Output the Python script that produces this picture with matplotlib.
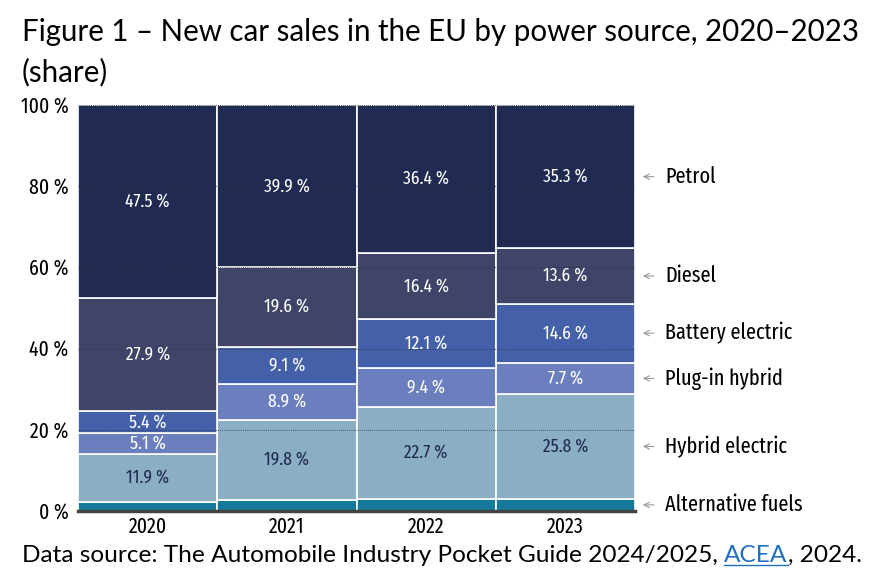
import matplotlib
matplotlib.use("Agg")
import matplotlib.pyplot as plt
from matplotlib import font_manager
from matplotlib.font_manager import FontProperties
from matplotlib.textpath import TextPath
import numpy as np

years = ["2020", "2021", "2022", "2023"]
sources = ["Alternative fuels", "Hybrid electric", "Plug-in hybrid", "Battery electric", "Diesel", "Petrol"]
alt_fuels = [2.2, 2.7, 3.0, 3.0]
hybrid = [11.9, 19.8, 22.7, 25.8]
plugin = [5.1, 8.9, 9.4, 7.7]
battery = [5.4, 9.1, 12.1, 14.6]
diesel = [27.9, 19.6, 16.4, 13.6]
petrol = [47.5, 39.9, 36.4, 35.3]

colors = ["#137a9a", "#8aaec4", "#6b7fbf", "#4460a8", "#3f4468", "#212b52"]
text_colors = [None, "#1f2a4f", "white", "white", "white", "white"]

installed = {f.name for f in font_manager.fontManager.ttflist}


def pick(prefs):
    for p in prefs:
        if p in installed:
            return p
    return "DejaVu Sans"


narrow = [pick(["Fira Sans Extra Condensed", "Fira Sans Condensed", "PT Sans Narrow", "Roboto Condensed"]),
          "DejaVu Sans"]
body = [pick(["Segoe UI", "Lato", "Noto Sans"]), "DejaVu Sans"]

W, H = 886, 579
fig = plt.figure(figsize=(W / 100, H / 100), dpi=100)
ax = fig.add_axes([78 / W, 1 - 511 / H, (635 - 78) / W, (511 - 105) / H])


def size_for(s, family, width_px):
    # font size that makes s about width_px wide
    t = fig.text(0, 0, s, family=family, fontsize=20)
    fig.canvas.draw()
    w = t.get_window_extent().width
    t.remove()
    return 20 * width_px / w


def size_for_h(s, family, height_px):
    # font size whose glyphs of s are height_px tall
    h = TextPath((0, 0), s, size=100, prop=FontProperties(family=family[0])).get_extents().height
    return height_px / (h / 100) * 72 / 100


def mix(a, b, w=0.7):
    return a * w + b * (1 - w)


fs_bar = mix(size_for_h("475", narrow, 13), size_for("47.5 %", narrow, 45))
fs_side = mix(size_for_h("B", narrow, 15.5), size_for("Battery electric", narrow, 121))
fs_ytick = mix(size_for_h("100", narrow, 15), size_for("100 %", narrow, 46))
fs_xtick = mix(size_for_h("2020", narrow, 14.5), size_for("2020", narrow, 41))

x = np.arange(len(years))
bottom = np.zeros(len(years))
series = [alt_fuels, hybrid, plugin, battery, diesel, petrol]
for vals, col, tcol, name in zip(series, colors, text_colors, sources):
    vals = np.array(vals)
    ax.bar(x, vals, width=1.0, bottom=bottom, color=col, edgecolor="white", linewidth=1.2, zorder=2)
    if tcol:
        for xi, v, b in zip(x, vals, bottom):
            ax.text(xi, b + v / 2, f"{v:.1f} %", ha="center", va="center",
                    color=tcol, fontsize=fs_bar, family=narrow, zorder=4)
    # label on the right, at the 2023 segment
    yc = bottom[-1] + vals[-1] / 2
    ax.annotate(name, xy=(3.555, yc), xytext=(3.715, yc), va="center", ha="left",
                fontsize=fs_side, family=narrow, color="black", annotation_clip=False,
                arrowprops=dict(arrowstyle="->,head_length=0.25,head_width=0.12", color="#9a9a9a", lw=0.8,
                                shrinkA=6, shrinkB=0))
    bottom = bottom + vals

ax.set_xlim(-0.5, 3.5)
ax.set_ylim(0, 100)
ax.set_yticks([0, 20, 40, 60, 80, 100])
ax.set_yticklabels([f"{t} %" for t in [0, 20, 40, 60, 80, 100]], family=narrow, fontsize=fs_ytick)
ax.set_xticks(x)
ax.set_xticklabels(years, family=narrow, fontsize=fs_xtick)
ax.tick_params(axis="y", length=0, pad=7)
ax.tick_params(axis="x", length=0, pad=4)
ax.grid(axis="y", linestyle=(0, (1, 1.5)), color="#333333", linewidth=0.6, zorder=3)
ax.set_axisbelow(False)
for s in ["left", "right", "top"]:
    ax.spines[s].set_visible(False)
ax.spines["bottom"].set_color("#444444")
ax.spines["bottom"].set_linewidth(2.5)
ax.spines["bottom"].set_zorder(5)

fs_title = size_for("Figure 1 \u2013 New car sales in the EU by power source, 2020\u20132023", body, 838)
fig.text(22 / W, 1 - 32 / H, "Figure 1 \u2013 New car sales in the EU by power source, 2020\u20132023",
         family=body, fontsize=fs_title, va="center", ha="left")
fig.text(22 / W, 1 - 72 / H, "(share)", family=body, fontsize=fs_title, va="center", ha="left")

ys = 1 - 555 / H
fs = size_for("Data source: The Automobile Industry Pocket Guide 2024/2025, ACEA, 2024.", body, 838)
t1 = fig.text(22 / W, ys, "Data source: The Automobile Industry Pocket Guide 2024/2025, ",
              family=body, fontsize=fs, va="center", ha="left")
fig.canvas.draw()
bb = t1.get_window_extent()
t2 = fig.text(bb.x1 / W, ys, "ACEA", family=body, fontsize=fs, va="center", ha="left", color="#1f6fc0")
fig.canvas.draw()
bb2 = t2.get_window_extent()
fig.text(bb2.x1 / W, ys, ", 2024.", family=body, fontsize=fs, va="center", ha="left")
fig.lines.append(plt.Line2D([bb2.x0 / W, bb2.x1 / W], [(bb2.y0 + 1) / H] * 2,
                            transform=fig.transFigure, color="#1f6fc0", lw=1))

fig.savefig("out.png", dpi=100)
